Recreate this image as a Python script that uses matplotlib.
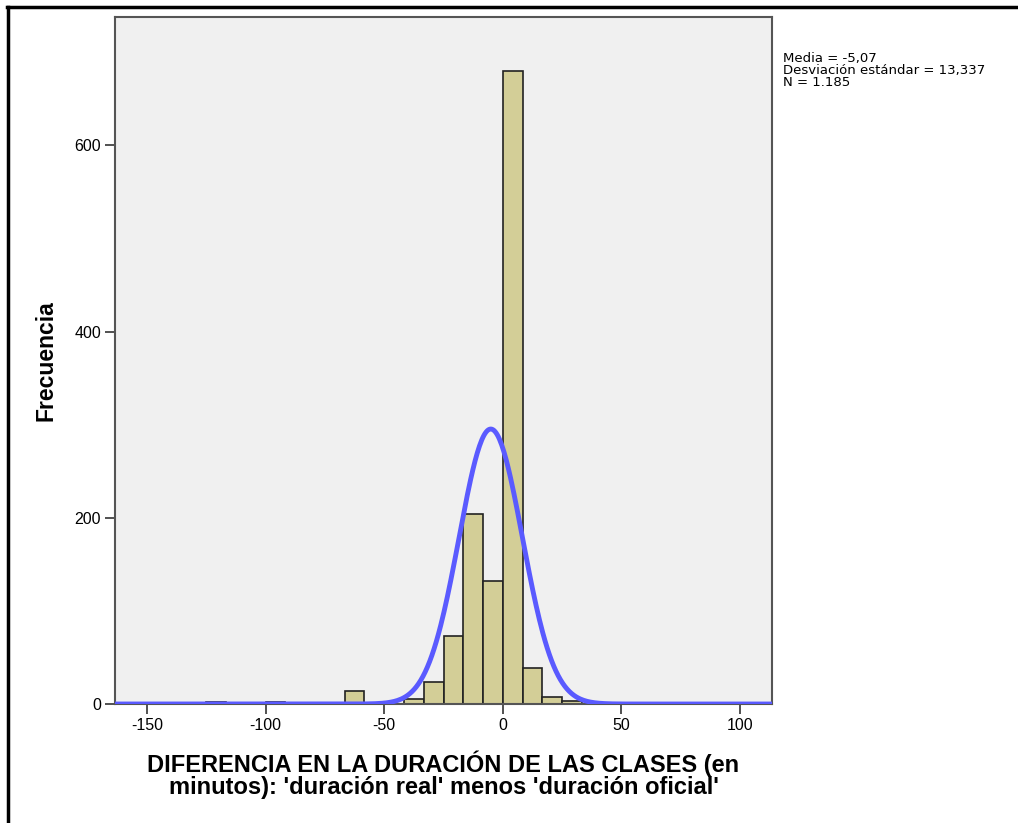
import numpy as np
import matplotlib
matplotlib.use("Agg")
import matplotlib.pyplot as plt
from matplotlib.lines import Line2D

# bin edges in minutes (width 25/3) and counts
bin_width = 25 / 3
bin_start = [-125, -100, -66.6667, -41.6667, -33.3333, -25, -16.6667,
             -8.3333, 0, 8.3333, 16.6667, 25]
frecuencias = [2, 2, 14, 5, 24, 73, 204, 132, 680, 39, 7, 3]

media = -5.07
desv = 13.337
n = 1185

xticks = [-150, -100, -50, 0, 50, 100]
yticks = [0, 200, 400, 600]

plt.rcParams["font.family"] = ["Liberation Sans", "DejaVu Sans"]
plt.rcParams["axes.unicode_minus"] = False

fig = plt.figure(figsize=(10.18, 8.23), dpi=100)
ax = fig.add_axes([115 / 1018, 1 - 704 / 823, (772 - 115) / 1018, (704 - 17) / 823])
ax.set_facecolor("#F0F0F0")

ax.bar(bin_start, frecuencias, width=bin_width, align="edge",
       color="#D3CE97", edgecolor="#222222", linewidth=1.2, zorder=2)

# curva normal con los estadísticos
xs = np.linspace(-165, 115, 600)
ys = n * bin_width / (desv * np.sqrt(2 * np.pi)) * np.exp(-0.5 * ((xs - media) / desv) ** 2)
ax.plot(xs, ys, color="#5A5AFF", linewidth=3.5, zorder=3, solid_capstyle="round")

ax.set_xlim(-163.5, 113.5)
ax.set_ylim(0, 738)
ax.set_xticks(xticks)
ax.set_yticks(yticks)
ax.tick_params(axis="both", labelsize=11.5, length=7, width=1.2, color="#333333", pad=3)
for s in ax.spines.values():
    s.set_color("#555555")
    s.set_linewidth(1.5)

ax.set_ylabel("Frecuencia", fontsize=16.5, fontweight="bold", labelpad=12)
ax.set_xlabel("DIFERENCIA EN LA DURACIÓN DE LAS CLASES (en\nminutos): 'duración real' menos 'duración oficial'",
              fontsize=17, fontweight="bold", labelpad=13, linespacing=0.9)

fig.text(783 / 1018, 1 - 52 / 823,
         f"Media = {media:.2f}".replace(".", ",") + "\n"
         + f"Desviación estándar = {desv:.3f}".replace(".", ",") + "\n"
         + "N = 1.185",
         fontsize=9.5, family="DejaVu Sans", va="top", ha="left", linespacing=0.88)

# marco exterior
fig.add_artist(Line2D([7 / 1018, 1], [1 - 7 / 823, 1 - 7 / 823], color="black", linewidth=2.5,
                      transform=fig.transFigure))
fig.add_artist(Line2D([8 / 1018, 8 / 1018], [0, 1 - 7 / 823], color="black", linewidth=2.5,
                      transform=fig.transFigure))

fig.savefig("out.png", dpi=100)
